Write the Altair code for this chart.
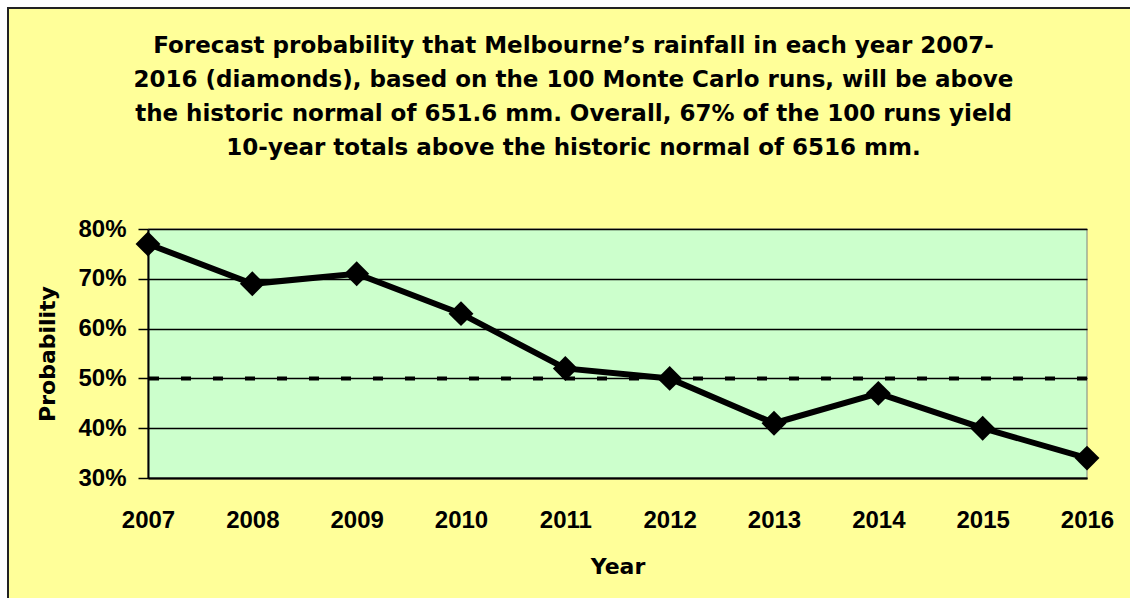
import altair as alt
import pandas as pd

years = [2007, 2008, 2009, 2010, 2011, 2012, 2013, 2014, 2015, 2016]
probability = [0.77, 0.69, 0.71, 0.63, 0.52, 0.50, 0.41, 0.47, 0.40, 0.34]
y_ticks = [0.3, 0.4, 0.5, 0.6, 0.7, 0.8]
normal_level = 0.5

title_lines = [
    "Forecast probability that Melbourne\u2019s rainfall in each year 2007-",
    "2016 (diamonds), based on the 100 Monte Carlo runs, will be above",
    "the historic normal of 651.6 mm. Overall, 67% of the 100 runs yield",
    "10-year totals above the historic normal of 6516 mm.",
]

df = pd.DataFrame({"Year": years, "Probability": probability})

W, H = 939, 249
FONT = "Liberation Sans"
WIDE = "DejaVu Sans"
YELLOW = "#FFFF99"
GREEN = "#CCFFCC"

xscale = alt.Scale(domain=[2007, 2016], nice=False, zero=False)
yscale = alt.Scale(domain=[0.3, 0.8], nice=False, zero=False)

xaxis = alt.Axis(values=years, format="d", title="Year", ticks=False, grid=False,
                 labelFlush=False, labelOverlap=False,
                 labelPadding=30, titlePadding=24, domainColor="black", domainWidth=2,
                 labelFont=FONT, labelFontSize=24, labelFontWeight="bold", labelColor="black",
                 titleFont=WIDE, titleFontSize=22, titleFontWeight="bold", titleColor="black",
                 zindex=1)
yaxis = alt.Axis(values=y_ticks, format=".0%", title="Probability", grid=True,
                 labelFlush=False, labelOverlap=False,
                 gridColor="black", gridWidth=1.5, gridOpacity=1,
                 tickColor="black", tickSize=10, tickWidth=1.5, labelPadding=12,
                 domainColor="black", domainWidth=2, titlePadding=18,
                 labelFont=FONT, labelFontSize=24, labelFontWeight="bold", labelColor="black",
                 titleFont=WIDE, titleFontSize=22, titleFontWeight="bold", titleColor="black",
                 zindex=1)

base = alt.Chart(df)
one = alt.Chart(pd.DataFrame({"k": [0]}))

frame = one.mark_rect(fill=YELLOW, stroke="#222222", strokeWidth=2).encode(
    x=alt.value(-140), x2=alt.value(1300), y=alt.value(-221), y2=alt.value(700)
)
plotbg = one.mark_rect(fill=GREEN, stroke="#808080", strokeWidth=1).encode(
    x=alt.value(0), x2=alt.value(W), y=alt.value(0), y2=alt.value(H)
)
title = one.mark_text(font=WIDE, fontSize=23, fontWeight="bold", color="black",
                      align="center", baseline="alphabetic", lineHeight=34).encode(
    x=alt.value(W / 2 - 44), y=alt.value(-176), text=alt.value(title_lines)
)

ref = alt.Chart(pd.DataFrame({"v": [normal_level]})).mark_rule(
    color="black", strokeWidth=4, strokeDash=[10, 22]
).encode(y=alt.Y("v:Q", scale=yscale, axis=yaxis))

line = base.mark_line(color="black", strokeWidth=6, clip=False).encode(
    x=alt.X("Year:Q", scale=xscale, axis=xaxis),
    y=alt.Y("Probability:Q", scale=yscale, axis=yaxis),
)
pts = base.mark_point(shape="diamond", size=620, filled=True, color="black", opacity=1, clip=False).encode(
    x=alt.X("Year:Q", scale=xscale, axis=xaxis),
    y=alt.Y("Probability:Q", scale=yscale, axis=yaxis),
)

chart = alt.layer(frame, plotbg, title, ref, line, pts).properties(
    width=W, height=H,
    autosize=alt.AutoSizeParams(type="none"),
    padding={"left": 148, "top": 229, "right": 43, "bottom": 120},
    background="white",
).configure_view(strokeWidth=0)

chart.save("out.html", embed_options={"renderer": "svg", "actions": False})
